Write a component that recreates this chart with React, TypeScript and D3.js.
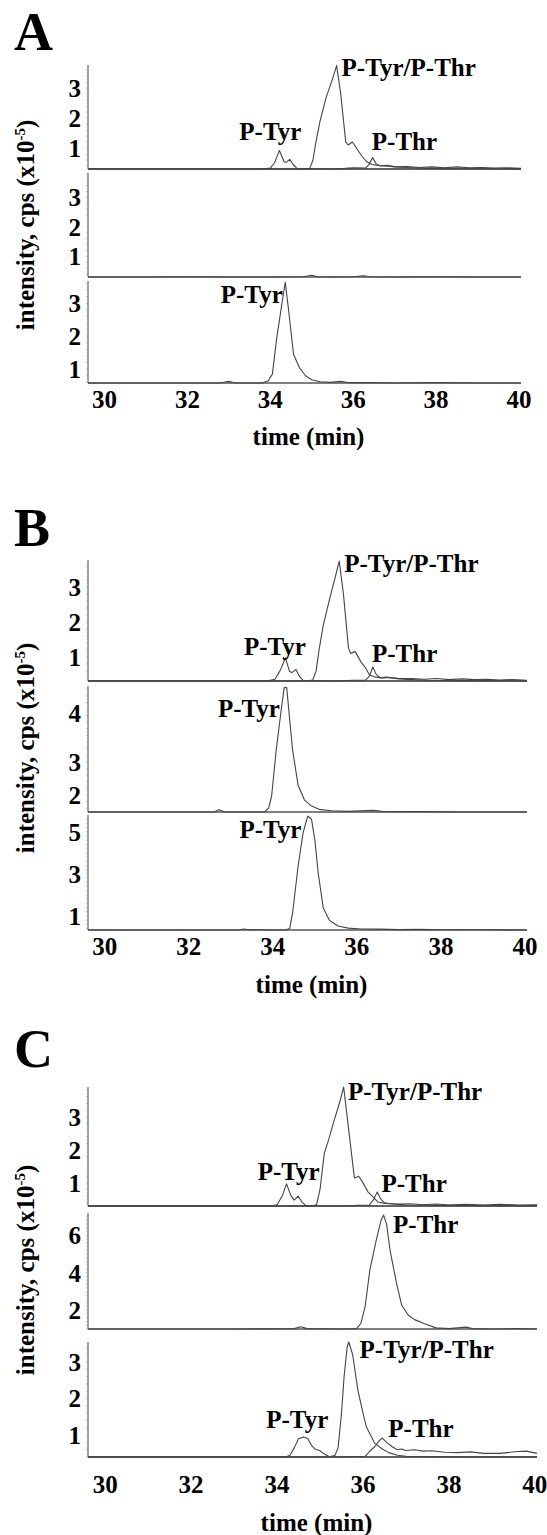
import { useRef, useEffect } from 'react';
import * as d3 from 'd3';

type Pt = [number, number];
type Note = { t: number; v: number; text: string; anchor: string };

const timeTicks = [30, 32, 34, 36, 38, 40];
const timeDomain: [number, number] = [29.6, 40.05];
const panelLetters = ['A', 'B', 'C'];

// ---------- panel A ----------
const a1Main: Pt[] = [[29.6,0.3],[33,0.3],[34.7,0.3],[34.95,0.32],[35.03,0.6],[35.1,1.2],[35.2,1.9],[35.35,2.7],[35.5,3.3],[35.6,3.75],[35.7,2.8],[35.82,1.2],[35.88,1.1],[35.98,1.2],[36.1,0.95],[36.2,0.75],[36.32,0.55],[36.45,0.45],[36.6,0.42],[36.8,0.4],[37.0,0.37],[37.3,0.38],[37.6,0.35],[37.9,0.37],[38.2,0.34],[38.5,0.37],[38.8,0.34],[39.1,0.35],[39.4,0.33],[39.7,0.34],[40.05,0.32]];
const a1Tyr: Pt[] = [[29.6,0.3],[31,0.3],[32.5,0.3],[33.8,0.3],[34.0,0.33],[34.1,0.5],[34.22,0.92],[34.33,0.55],[34.38,0.52],[34.47,0.62],[34.55,0.45],[34.65,0.31],[34.8,0.3],[35.0,0.31],[35.5,0.3],[36,0.3],[37,0.3],[38,0.3],[39,0.3],[40.05,0.3]];
const a1Thr: Pt[] = [[29.6,0.3],[34,0.3],[35.5,0.3],[35.8,0.32],[36.0,0.34],[36.3,0.33],[36.38,0.45],[36.47,0.68],[36.55,0.48],[36.65,0.4],[36.8,0.42],[37.0,0.38],[37.3,0.35],[37.6,0.33],[38,0.32],[38.5,0.31],[39,0.31],[40.05,0.3]];
const a2Trace: Pt[] = [[29.6,0.3],[31,0.3],[32,0.31],[33,0.3],[34,0.3],[34.8,0.31],[35.0,0.36],[35.15,0.31],[35.5,0.3],[36.0,0.31],[36.25,0.34],[36.4,0.31],[37,0.3],[38,0.31],[39,0.3],[40.05,0.3]];
const a3Trace: Pt[] = [[29.6,0.58],[32.8,0.58],[33.0,0.63],[33.15,0.58],[33.8,0.58],[33.95,0.65],[34.05,0.85],[34.15,1.9],[34.27,2.9],[34.36,3.64],[34.44,2.8],[34.56,1.45],[34.7,1.05],[34.85,0.8],[35.0,0.68],[35.2,0.62],[35.45,0.6],[35.7,0.63],[35.9,0.59],[36.5,0.59],[37,0.58],[38,0.59],[39,0.58],[40.05,0.58]];

// ---------- panel B ----------
const b1Main: Pt[] = [[29.6,0.31],[33,0.31],[34.75,0.31],[34.95,0.34],[35.03,0.6],[35.1,1.2],[35.2,1.9],[35.35,2.65],[35.48,3.25],[35.58,3.74],[35.68,2.8],[35.8,1.25],[35.85,1.1],[35.96,1.15],[36.1,0.85],[36.2,0.7],[36.3,0.48],[36.45,0.42],[36.6,0.4],[36.8,0.41],[37.0,0.38],[37.3,0.38],[37.6,0.36],[37.9,0.38],[38.2,0.35],[38.5,0.37],[38.8,0.35],[39.1,0.36],[39.4,0.34],[39.7,0.35],[40.05,0.33]];
const b1Tyr: Pt[] = [[29.6,0.31],[31.5,0.31],[33,0.31],[33.85,0.31],[34.05,0.36],[34.17,0.6],[34.3,0.97],[34.4,0.58],[34.45,0.55],[34.55,0.64],[34.63,0.45],[34.72,0.33],[35,0.32],[35.4,0.31],[36.5,0.31],[38,0.31],[40.05,0.31]];
const b1Thr: Pt[] = [[29.6,0.31],[35.5,0.31],[35.9,0.33],[36.2,0.33],[36.3,0.45],[36.38,0.71],[36.46,0.5],[36.56,0.4],[36.7,0.42],[37.0,0.37],[37.3,0.35],[37.7,0.33],[38.3,0.32],[39,0.32],[40.05,0.31]];
const b2Trace: Pt[] = [[29.6,1.48],[32.6,1.48],[32.72,1.55],[32.85,1.48],[33.8,1.48],[33.9,1.6],[33.97,1.95],[34.08,3.36],[34.19,4.48],[34.27,5.25],[34.33,5.25],[34.4,4.3],[34.47,3.36],[34.6,2.3],[34.75,1.85],[34.9,1.68],[35.1,1.56],[35.4,1.52],[35.8,1.5],[36.4,1.53],[36.6,1.5],[37.5,1.49],[38.5,1.48],[40.05,1.48]];
const b3Trace: Pt[] = [[29.6,0.33],[33.2,0.33],[33.3,0.38],[33.45,0.34],[34.3,0.33],[34.4,0.4],[34.47,1.14],[34.6,3.35],[34.72,4.95],[34.83,5.75],[34.92,5.6],[35.0,4.6],[35.08,3.04],[35.2,1.38],[35.35,0.78],[35.55,0.52],[35.8,0.42],[36.1,0.38],[36.5,0.37],[37,0.35],[37.5,0.36],[38,0.34],[39,0.34],[40.05,0.33]];

// ---------- panel C ----------
const c1Main: Pt[] = [[29.6,0.3],[33,0.3],[34.8,0.3],[34.92,0.34],[35.0,0.8],[35.1,1.9],[35.2,2.3],[35.33,2.9],[35.45,3.4],[35.55,3.9],[35.65,2.8],[35.8,1.15],[35.9,1.2],[36.0,1.0],[36.12,0.72],[36.25,0.55],[36.35,0.42],[36.5,0.38],[36.8,0.36],[37.1,0.37],[37.4,0.34],[37.7,0.36],[38.0,0.33],[38.4,0.35],[38.8,0.33],[39.2,0.35],[39.6,0.33],[40.05,0.34]];
const c1Tyr: Pt[] = [[29.6,0.3],[31,0.3],[33,0.3],[33.85,0.3],[34.0,0.34],[34.12,0.6],[34.22,0.97],[34.32,0.62],[34.4,0.48],[34.49,0.6],[34.58,0.42],[34.67,0.31],[35,0.3],[36,0.3],[38,0.3],[40.05,0.3]];
const c1Thr: Pt[] = [[29.6,0.3],[35.5,0.3],[35.9,0.32],[36.15,0.33],[36.25,0.5],[36.33,0.72],[36.42,0.5],[36.5,0.4],[36.7,0.36],[37,0.33],[38,0.32],[39,0.31],[40.05,0.31]];
const c2Trace: Pt[] = [[29.6,1.0],[33,1.0],[34.4,1.02],[34.55,1.12],[34.7,1.02],[35.5,1.0],[35.85,1.02],[35.95,1.3],[36.05,2.2],[36.16,4.15],[36.31,5.75],[36.42,6.8],[36.48,7.08],[36.55,6.6],[36.63,5.2],[36.78,3.45],[36.9,2.28],[37.05,1.75],[37.2,1.5],[37.45,1.27],[37.7,1.06],[38.0,1.02],[38.4,1.1],[38.55,1.02],[39,1.0],[39.6,1.02],[40.05,1.0]];
const c3Main: Pt[] = [[29.6,0.4],[33,0.4],[35.2,0.4],[35.35,0.45],[35.42,0.65],[35.5,1.6],[35.56,2.6],[35.63,3.4],[35.67,3.55],[35.76,3.2],[35.88,2.24],[36.0,1.6],[36.08,1.22],[36.2,0.95],[36.27,0.78],[36.45,0.62],[36.6,0.52],[36.8,0.45],[37.0,0.42],[37.5,0.41],[38.5,0.4],[40.05,0.4]];
const c3Tyr: Pt[] = [[29.6,0.4],[31,0.4],[33,0.4],[34.2,0.4],[34.3,0.45],[34.4,0.65],[34.5,0.9],[34.62,0.95],[34.72,0.9],[34.8,0.72],[34.88,0.62],[35.0,0.57],[35.1,0.48],[35.2,0.42],[35.3,0.4],[36,0.4],[40.05,0.4]];
const c3Thr: Pt[] = [[29.6,0.4],[35.5,0.4],[36.05,0.42],[36.15,0.55],[36.27,0.68],[36.38,0.85],[36.45,0.92],[36.55,0.8],[36.68,0.68],[36.8,0.6],[36.9,0.62],[37.0,0.58],[37.2,0.6],[37.4,0.56],[37.6,0.57],[37.9,0.53],[38.2,0.52],[38.5,0.54],[38.8,0.5],[39.2,0.5],[39.6,0.55],[39.8,0.56],[40.05,0.5]];

// peak labels
const a1Notes: Note[] = [
  { t: 35.72, v: 3.4, text: 'P-Tyr/P-Thr', anchor: 'start' },
  { t: 34.0, v: 1.27, text: 'P-Tyr', anchor: 'middle' },
  { t: 36.45, v: 0.93, text: 'P-Thr', anchor: 'start' },
];
const a3Notes: Note[] = [{ t: 34.3, v: 3.0, text: 'P-Tyr', anchor: 'end' }];
const b1Notes: Note[] = [
  { t: 35.7, v: 3.42, text: 'P-Tyr/P-Thr', anchor: 'start' },
  { t: 34.05, v: 1.05, text: 'P-Tyr', anchor: 'middle' },
  { t: 36.36, v: 0.85, text: 'P-Thr', anchor: 'start' },
];
const b2Notes: Note[] = [{ t: 34.17, v: 4.36, text: 'P-Tyr', anchor: 'end' }];
const b3Notes: Note[] = [{ t: 34.68, v: 4.71, text: 'P-Tyr', anchor: 'end' }];
const c1Notes: Note[] = [
  { t: 35.65, v: 3.51, text: 'P-Tyr/P-Thr', anchor: 'start' },
  { t: 34.27, v: 1.09, text: 'P-Tyr', anchor: 'middle' },
  { t: 36.43, v: 0.72, text: 'P-Thr', anchor: 'start' },
];
const c2Notes: Note[] = [{ t: 36.7, v: 6.12, text: 'P-Thr', anchor: 'start' }];
const c3Notes: Note[] = [
  { t: 35.92, v: 3.11, text: 'P-Tyr/P-Thr', anchor: 'start' },
  { t: 34.47, v: 1.19, text: 'P-Tyr', anchor: 'middle' },
  { t: 36.59, v: 0.95, text: 'P-Thr', anchor: 'start' },
];

// y tick positions (value) and text per row
const ticks123 = [1, 2, 3];
const b2TickAt = [2, 3, 4.48];
const b2TickText = ['2', '3', '4'];
const b3Ticks = [1, 3, 5];
const c2Ticks = [2, 4, 6];

const rows = [
  [
    { traces: [a1Tyr, a1Thr, a1Main], domain: [0.3, 3.77], tickAt: ticks123, tickText: ticks123.map(String), notes: a1Notes },
    { traces: [a2Trace], domain: [0.3, 3.83], tickAt: ticks123, tickText: ticks123.map(String), notes: [] },
    { traces: [a3Trace], domain: [0.58, 3.67], tickAt: ticks123, tickText: ticks123.map(String), notes: a3Notes },
  ],
  [
    { traces: [b1Tyr, b1Thr, b1Main], domain: [0.31, 3.77], tickAt: ticks123, tickText: ticks123.map(String), notes: b1Notes },
    { traces: [b2Trace], domain: [1.48, 5.3], tickAt: b2TickAt, tickText: b2TickText, notes: b2Notes },
    { traces: [b3Trace], domain: [0.33, 5.8], tickAt: b3Ticks, tickText: b3Ticks.map(String), notes: b3Notes },
  ],
  [
    { traces: [c1Tyr, c1Thr, c1Main], domain: [0.3, 3.9], tickAt: ticks123, tickText: ticks123.map(String), notes: c1Notes },
    { traces: [c2Trace], domain: [1.0, 7.19], tickAt: c2Ticks, tickText: c2Ticks.map(String), notes: c2Notes },
    { traces: [c3Tyr, c3Thr, c3Main], domain: [0.4, 3.55], tickAt: ticks123, tickText: ticks123.map(String), notes: c3Notes },
  ],
];

// page layout (pixels)
const layout = [
  { letterY: 50, xEnd: 521, rows: [[65, 169], [173, 277], [281, 383]], tickY: 408, titleY: 445, yTitleY: 225 },
  { letterY: 546, xEnd: 527, rows: [[560, 681], [686, 812], [815, 930]], tickY: 955, titleY: 993, yTitleY: 748 },
  { letterY: 1067, xEnd: 537, rows: [[1087, 1206], [1213, 1329], [1342, 1457]], tickY: 1493, titleY: 1531, yTitleY: 1270 },
];

const FONT = '"Liberation Serif", "Times New Roman", serif';
const FS = 25;

export default function App() {
  const svgRef = useRef<SVGSVGElement>(null);

  useEffect(() => {
    const width = 547;
    const height = 1535;
    const xLeft = 88;
    const svg = d3.select(svgRef.current).attr('width', width).attr('height', height);
    svg.selectAll('*').remove();
    svg.append('rect').attr('width', width).attr('height', height).attr('fill', '#fff');

    layout.forEach((lay, p) => {
      const g = svg.append('g');
      const x = d3.scaleLinear().domain(timeDomain).range([xLeft, lay.xEnd]);

      g.append('text')
        .attr('x', 14).attr('y', lay.letterY)
        .attr('font-family', FONT).attr('font-weight', 'bold').attr('font-size', 54)
        .text(panelLetters[p]);

      rows[p].forEach((row, r) => {
        const [top, base] = lay.rows[r];
        const y = d3.scaleLinear().domain(row.domain).range([base, top]);

        // axes
        g.append('line').attr('x1', xLeft).attr('x2', xLeft).attr('y1', top).attr('y2', base)
          .attr('stroke', '#666').attr('stroke-width', 1.2);
        g.append('line').attr('x1', xLeft).attr('x2', lay.xEnd).attr('y1', base).attr('y2', base)
          .attr('stroke', '#555').attr('stroke-width', 1.5);
        g.selectAll(null).data(d3.range(Math.ceil(row.domain[0] * 5) / 5, row.domain[1], 0.2)).enter()
          .append('line').attr('x1', xLeft - 2).attr('x2', xLeft).attr('y1', d => y(d)).attr('y2', d => y(d))
          .attr('stroke', '#999').attr('stroke-width', 0.6);

        g.selectAll(null).data(row.tickAt).enter().append('text')
          .attr('x', 81).attr('y', d => y(d)).attr('dy', '0.35em')
          .attr('text-anchor', 'end')
          .attr('font-family', FONT).attr('font-weight', 'bold').attr('font-size', FS)
          .text((d, i) => row.tickText[i]);

        const line = d3.line<Pt>().x(d => x(d[0])).y(d => y(d[1])).curve(d3.curveLinear);
        g.selectAll(null).data(row.traces).enter().append('path')
          .attr('d', d => line(d))
          .attr('fill', 'none').attr('stroke', '#444').attr('stroke-width', 1.1)
          .attr('stroke-linejoin', 'round');

        g.selectAll(null).data(row.notes).enter().append('text')
          .attr('x', d => x(d.t)).attr('y', d => y(d.v))
          .attr('text-anchor', d => d.anchor)
          .attr('font-family', FONT).attr('font-weight', 'bold').attr('font-size', FS)
          .text(d => d.text);
      });

      g.selectAll(null).data(timeTicks).enter().append('text')
        .attr('x', d => x(d)).attr('y', lay.tickY)
        .attr('text-anchor', 'middle')
        .attr('font-family', FONT).attr('font-weight', 'bold').attr('font-size', FS)
        .text(d => d);

      g.append('text')
        .attr('x', (xLeft + lay.xEnd) / 2 + 4).attr('y', lay.titleY)
        .attr('text-anchor', 'middle')
        .attr('font-family', FONT).attr('font-weight', 'bold').attr('font-size', FS)
        .text('time (min)');

      const yt = g.append('text')
        .attr('transform', `translate(34, ${lay.yTitleY}) rotate(-90)`)
        .attr('text-anchor', 'middle')
        .attr('font-family', FONT).attr('font-weight', 'bold').attr('font-size', FS);
      yt.append('tspan').text('intensity, cps (x10');
      yt.append('tspan').attr('dy', -9).attr('font-size', 15).text('-5');
      yt.append('tspan').attr('dy', 9).text(')');
    });
  }, []);

  return <svg ref={svgRef} style={{ position: 'absolute', left: 0, top: 0 }} />;
}
